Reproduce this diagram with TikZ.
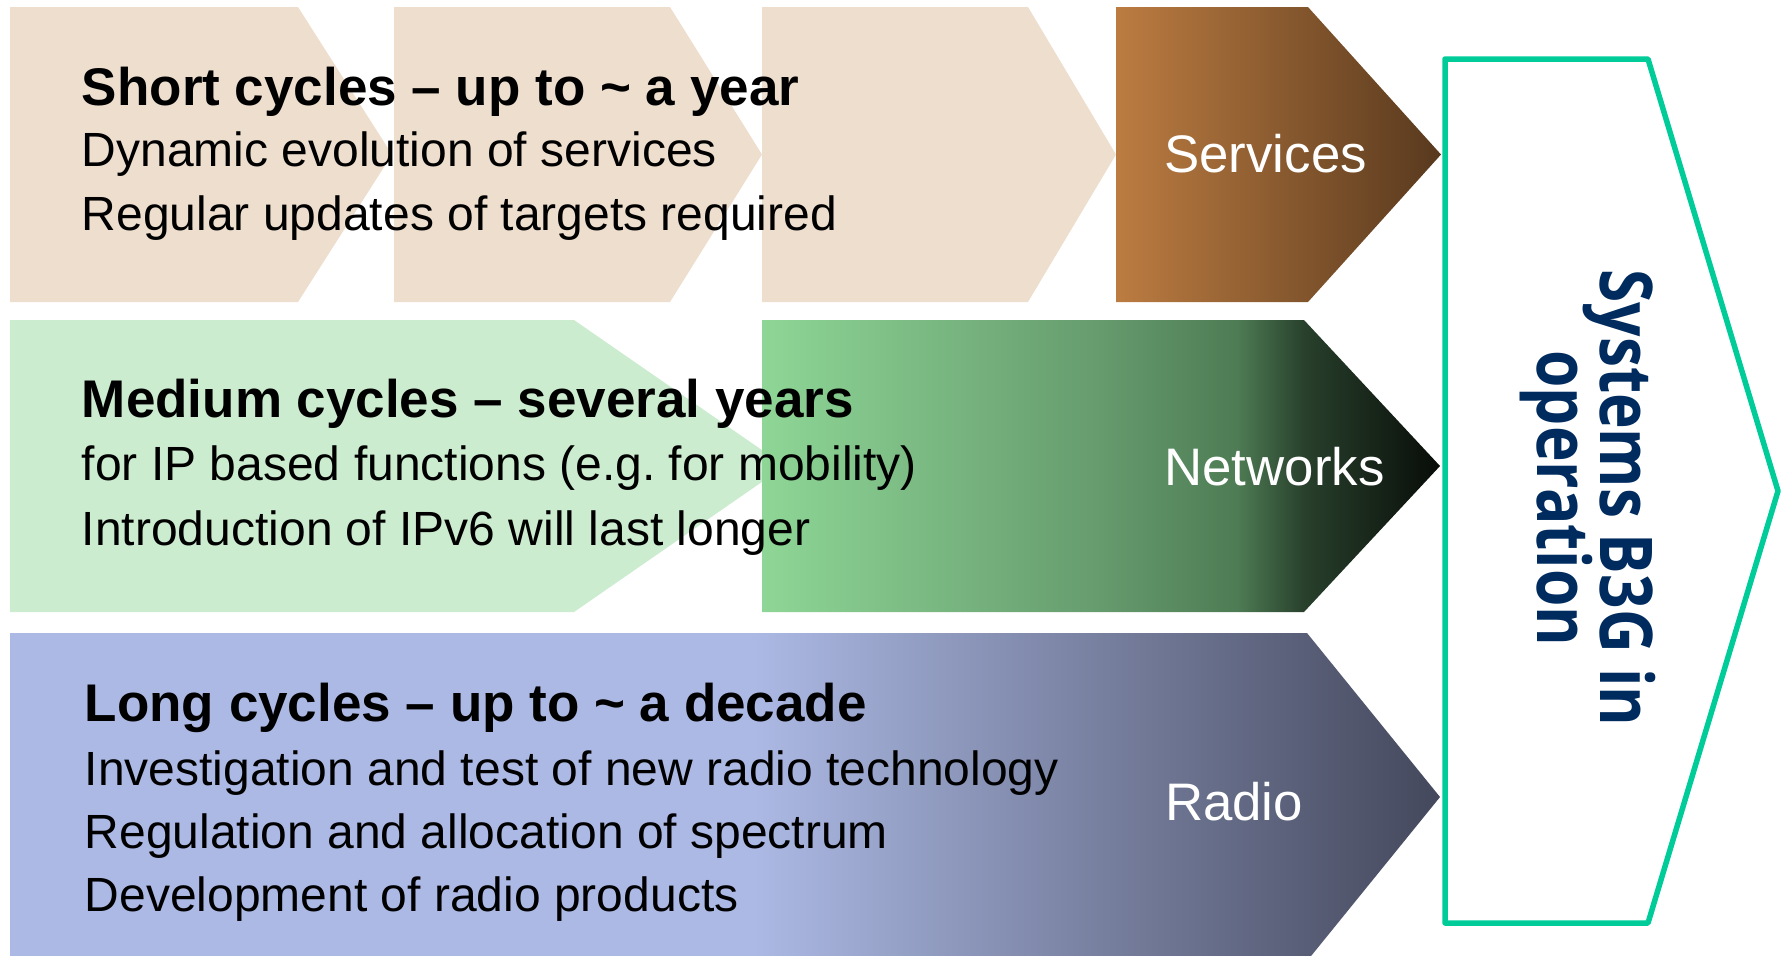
\documentclass[tikz,border=0pt]{standalone}
\usepackage{fontspec}
\setmainfont{Liberation Sans}
\newfontfamily\opfont[FakeStretch=0.83]{Open Sans}
\frenchspacing

\definecolor{beige}{RGB}{238,222,206}
\definecolor{servA}{RGB}{188,124,65}
\definecolor{servB}{RGB}{88,57,30}
\definecolor{mint}{RGB}{204,236,208}
\definecolor{netA}{RGB}{142,214,150}
\definecolor{netM}{RGB}{102,155,110}
\definecolor{netN}{RGB}{78,124,84}
\definecolor{netD}{RGB}{40,64,44}
\definecolor{netB}{RGB}{8,12,8}
\definecolor{radA}{RGB}{172,185,228}
\definecolor{radB}{RGB}{68,72,92}
\definecolor{sysgreen}{RGB}{0,204,153}
\definecolor{sysblue}{RGB}{0,43,94}

\pgfdeclarehorizontalshading{netshade}{100bp}{color(0bp)=(netA); color(25bp)=(netA); color(50bp)=(netM); color(60bp)=(netN); color(65bp)=(netD); color(75bp)=(netB); color(100bp)=(netB)}
\pgfdeclarehorizontalshading{radioshade}{100bp}{color(0bp)=(radA); color(25bp)=(radA); color(51bp)=(radA); color(75bp)=(radB); color(100bp)=(radB)}

\begin{document}
\begin{tikzpicture}[x=0.5pt, y=-0.5pt,
    heading/.style={anchor=base west, inner sep=0pt, font=\fontsize{26.5}{30}\selectfont\bfseries},
    bodytext/.style={anchor=base west, inner sep=0pt, font=\fontsize{24}{28}\selectfont},
    layertext/.style={anchor=base west, inner sep=0pt, text=white, font=\fontsize{26.4}{30}\selectfont},
    systext/.style={anchor=base, inner sep=0pt, rotate=-90, text=sysblue, font=\opfont\bfseries\fontsize{36.4}{40}\selectfont}]
    \useasboundingbox (0,0) rectangle (1789,955);

    % Short cycles
    \fill[beige] (10,7) -- (298,7) -- (392,154.5) -- (298,302) -- (10,302) -- cycle;
    \fill[beige] (394,7) -- (670,7) -- (762,154.5) -- (670,302) -- (394,302) -- cycle;
    \fill[beige] (762,7) -- (1028,7) -- (1116,154.5) -- (1028,302) -- (762,302) -- cycle;
    \shade[left color=servA, right color=servB] (1116,7) -- (1308,7) -- (1441,154.5) -- (1308,302) -- (1116,302) -- cycle;

    % Medium cycles
    \fill[mint] (10,320) -- (574,320) -- (785,466) -- (574,612) -- (10,612) -- cycle;
    \shade[shading=netshade] (762,320) -- (1304,320) -- (1440,466) -- (1304,612) -- (762,612) -- cycle;

    % Long cycles
    \shade[shading=radioshade] (10,633) -- (1307,633) -- (1440,797) -- (1307,961) -- (10,961) -- cycle;

    % Systems in operation
    \draw[sysgreen, line width=2.75pt, line join=round] (1445,59) -- (1648,59) -- (1778,491) -- (1648,923) -- (1445,923) -- cycle;

    \node[heading] (short) at (81.5,105) {Short cycles – up to \textasciitilde{} a year};
    \node[bodytext] (dyn) at (81.5,166.7) {Dynamic evolution of services};
    \node[bodytext] (upd) at (81.5,230.7) {Regular updates of targets required};

    \node[heading] (medium) at (81.5,417.3) {Medium cycles – several years};
    \node[bodytext] (ipfun) at (81.5,480) {for IP based functions (e.g. for mobility)};
    \node[bodytext] (ipsix) at (81.5,545) {Introduction of IPv6 will last longer};

    \node[heading] (long) at (84.4,721.7) {Long cycles – up to \textasciitilde{} a decade};
    \node[bodytext] (invest) at (84.4,785) {Investigation and test of new radio technology};
    \node[bodytext] (regul) at (84.4,848.3) {Regulation and allocation of spectrum};
    \node[bodytext] (devel) at (84.4,911.7) {Development of radio products};

    \node[layertext] (services) at (1164,172.7) {Services};
    \node[layertext] (networks) at (1164,485) {Networks};
    \node[layertext] (radio) at (1164.7,820) {Radio};

    \node[systext] (sysa) at (1600,498) {Systems B3G in};
    \node[systext] (sysb) at (1537,498.5) {operation};
\end{tikzpicture}
\end{document}
